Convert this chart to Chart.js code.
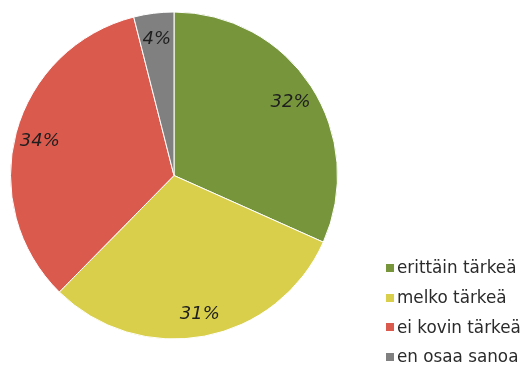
<!DOCTYPE html>
<html>
<head>
<meta charset="utf-8">
<script src="https://cdn.jsdelivr.net/npm/chart.js@4/dist/chart.umd.min.js"></script>
<style>
  html, body { margin: 0; padding: 0; background: #fff; }
  #wrap { width: 525px; height: 367px; position: relative; }
</style>
</head>
<body>
<div id="wrap"><canvas id="pieChart"></canvas></div>
<script>
const labels = ['erittäin tärkeä', 'melko tärkeä', 'ei kovin tärkeä', 'en osaa sanoa'];
const shares = [32, 31, 34, 4];
const colors = ['#77963c', '#d9cf4b', '#db5a4e', '#808080'];

const FONT = "'DejaVu Sans', Verdana, sans-serif";

// percentage text inside each slice
const sliceLabels = {
    id: 'sliceLabels',
    afterDatasetsDraw(chart) {
        const ctx = chart.ctx;
        const meta = chart.getDatasetMeta(0);
        ctx.save();
        ctx.font = 'italic 18px ' + FONT;
        ctx.fillStyle = '#1e1e1e';
        ctx.textAlign = 'center';
        ctx.textBaseline = 'middle';
        meta.data.forEach((arc, i) => {
            const p = arc.getProps(['x', 'y', 'startAngle', 'endAngle', 'outerRadius'], true);
            const mid = (p.startAngle + p.endAngle) / 2;
            const r = p.outerRadius * 0.85;
            ctx.fillText(shares[i] + '%', p.x + Math.cos(mid) * r, p.y + Math.sin(mid) * r + 2);
        });
        ctx.restore();
    }
};

// legend stacked in the lower right corner
const cornerLegend = {
    id: 'cornerLegend',
    afterDraw(chart) {
        const ctx = chart.ctx;
        ctx.save();
        ctx.font = '16.8px ' + FONT;
        ctx.textAlign = 'left';
        ctx.textBaseline = 'middle';
        labels.forEach((lab, i) => {
            const y = 268 + i * 29.7;
            ctx.fillStyle = colors[i];
            ctx.fillRect(386, Math.round(y) - 4, 8, 8);
            ctx.fillStyle = '#2b2b2b';
            ctx.fillText(lab, 397, y + 1);
        });
        ctx.restore();
    }
};

new Chart(document.getElementById('pieChart').getContext('2d'), {
    type: 'pie',
    data: {
        labels: labels,
        datasets: [{
            data: shares,
            backgroundColor: colors,
            borderColor: '#ffffff',
            borderWidth: 1
        }]
    },
    options: {
        responsive: true,
        maintainAspectRatio: false,
        animation: false,
        layout: { padding: { left: 10, right: 187, top: 11, bottom: 27 } },
        plugins: {
            legend: { display: false },
            tooltip: { enabled: false }
        }
    },
    plugins: [sliceLabels, cornerLegend]
});
</script>
</body>
</html>
